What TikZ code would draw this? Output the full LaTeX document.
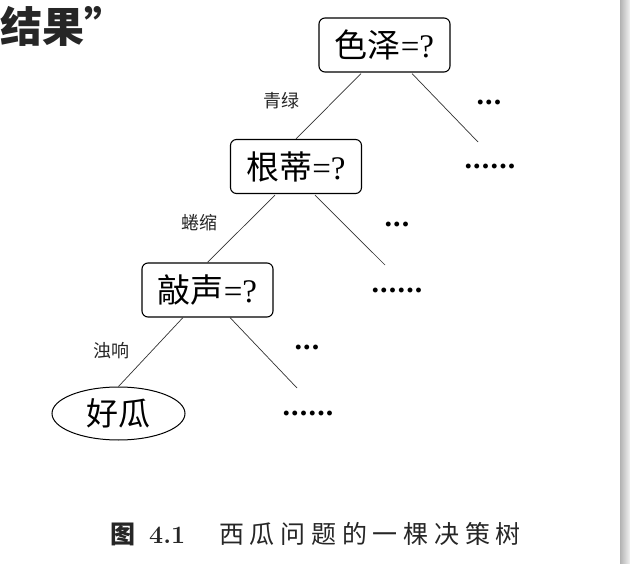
\documentclass[tikz,border=0pt]{standalone}
\usepackage{fontspec}
\setmainfont{Liberation Serif}
\newfontfamily\lmfont{Latin Modern Roman}
\newfontfamily\cjk{Noto Sans CJK SC}
\newfontfamily\cjkcap[LetterSpace=23]{Noto Sans CJK SC}
\newcommand\mydots{.\kern1.2pt.\kern1.2pt.}
\usetikzlibrary{shapes.geometric,calc}
\begin{document}
\begin{tikzpicture}[x=1pt,y=-1pt,
  qbox/.style={draw, rounded corners=6pt, line width=1.1pt, minimum width=131pt, minimum height=54pt, inner sep=0pt, font=\fontsize{33}{36}\selectfont},
  leaf/.style={draw, ellipse, line width=1pt, minimum width=133pt, minimum height=53pt, inner sep=0pt, font=\fontsize{32}{36}\selectfont},
  conn/.style={line width=0.7pt, draw=black!80},
  lbl/.style={font=\cjk\fontsize{18}{20}\selectfont, text=black!85, inner sep=0pt},
  dotsnode/.style={font=\bfseries\fontsize{30}{30}\selectfont, anchor=base, inner sep=0pt}]
\useasboundingbox (0,0) rectangle (630,564);
\fill[white] (0,0) rectangle (630,564);
\shade[left color=gray!60, right color=gray!10] (620,0) rectangle (630,564);

\node[anchor=base west, inner sep=0pt, font=\cjk\bfseries\fontsize{42}{48}\selectfont, text=black!85] (title) at (0,43) {结果”};

\node[qbox] (se) at (384.5,45) {{\cjk 色泽}=?};
\node[qbox] (gd) at (296,166.5) {{\cjk 根蒂}=?};
\node[qbox] (qs) at (207.5,290) {{\cjk 敲声}=?};
\node[leaf] (hg) at (118.5,413.5) {{\cjk 好瓜}};

\coordinate (e1) at (478,142);
\coordinate (e2) at (385,265);
\coordinate (e3) at (297,388);

\draw[conn] ($(se.south)+(-23.5,1)$) -- (gd.north);
\draw[conn] ($(se.south)+(27.5,1)$) -- (e1);
\draw[conn] ($(gd.south)+(-21,1)$) -- (qs.north);
\draw[conn] ($(gd.south)+(19,1)$) -- (e2);
\draw[conn] ($(qs.south)+(-24.5,0)$) -- (hg.north);
\draw[conn] ($(qs.south)+(22.5,0)$) -- (e3);

\node[lbl] (l1) at (281,101) {青绿};
\node[lbl] (l2) at (199,223) {蜷缩};
\node[lbl] (l3) at (111,351) {浊响};

\node[dotsnode] (d1) at (489,105) {\mydots};
\node[dotsnode] (d2) at (490,169) {\mydots\kern1.2pt\mydots};
\node[dotsnode] (d3) at (397,227) {\mydots};
\node[dotsnode] (d4) at (397,293) {\mydots\kern1.2pt\mydots};
\node[dotsnode] (d5) at (307,350) {\mydots};
\node[dotsnode] (d6) at (308,415) {\mydots\kern1.2pt\mydots};

\node[anchor=base west, inner sep=0pt, text=black!85, font=\fontsize{25}{30}\selectfont] (cap) at (110,543)
  {{\cjk\bfseries 图}\hspace{14pt}{\lmfont\bfseries 4.1}\hspace{34pt}{\cjkcap 西瓜问题的一棵决策树}};
\end{tikzpicture}
\end{document}
